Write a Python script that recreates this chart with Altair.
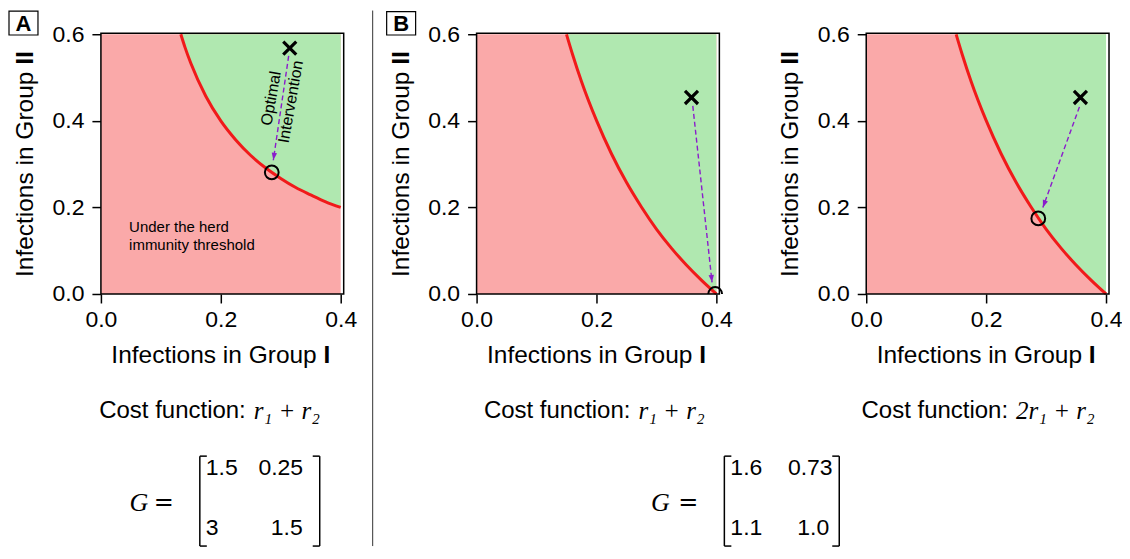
import math
import altair as alt
import pandas as pd

# ------------------------------------------------------------------ data
X_DOMAIN = [0.0, 0.405]
Y_DOMAIN = [0.0, 0.6025]
X_TICKS = [0.0, 0.2, 0.4]
Y_TICKS = [0.0, 0.2, 0.4, 0.6]
X_FILL = [0.0, 0.4]
Y_FILL = [0.0, 0.6]

# herd-immunity threshold curves
CURVE_A_X = [0.1333, 0.14, 0.15, 0.175, 0.2, 0.225, 0.25, 0.275, 0.3, 0.325, 0.35, 0.375, 0.4]
CURVE_A_Y = [0.6, 0.571, 0.533, 0.457, 0.4, 0.356, 0.32, 0.291, 0.267, 0.246, 0.229, 0.213, 0.2]
CURVE_BC_X = [0.15, 0.16, 0.175, 0.2, 0.225, 0.25, 0.275, 0.3, 0.325, 0.35, 0.375, 0.4]
CURVE_BC_Y = [0.6, 0.554, 0.491, 0.401, 0.324, 0.258, 0.201, 0.150, 0.106, 0.067, 0.032, 0.0]

START_X = {"A": 0.315, "B": 0.3585, "C": 0.3573}
START_Y = {"A": 0.568, "B": 0.454, "C": 0.454}
OPT_X = {"A": 0.285, "B": 0.398, "C": 0.287}
OPT_Y = {"A": 0.281, "B": 0.0, "C": 0.1746}
ARROW_X1 = {"A": 0.3132, "B": 0.3607, "C": 0.3557}
ARROW_Y1 = {"A": 0.550, "B": 0.4346, "C": 0.4323}
ARROW_X2 = {"A": 0.2876, "B": 0.3928, "C": 0.2947}
ARROW_Y2 = {"A": 0.309, "B": 0.027, "C": 0.200}

COST = {"A": "r₁  +  r₂", "B": "r₁  +  r₂", "C": "2r₁  +  r₂"}
MATRIX_A = [["1.5", "0.25"], ["3", "1.5"]]
MATRIX_B = [["1.6", "0.73"], ["1.1", "1.0"]]

# in-plot annotations (data coordinates of the first line)
NOTE_UNDER = "Under the herd\nimmunity threshold"
NOTE_UNDER_XY = (0.047, 0.155)
NOTE_OPT = "Optimal\nIntervention"
NOTE_OPT_XY = (0.284, 0.452)

# ------------------------------------------------------------------ style / layout
FONT = "Liberation Sans"
SERIF = "Liberation Serif"
RED_FILL = "#faa9a9"
GREEN_FILL = "#b0e8b0"
CURVE_COL = "#f01a1a"
PURPLE = "#8a1ccb"

PX_X = 600.0
PX_Y = 433.2
PLOT_W = round(X_DOMAIN[1] * PX_X)  # 243
PLOT_H = round(Y_DOMAIN[1] * PX_Y)  # 261
SPACING = 133
ORIGIN = {"A": (101.0, 31.7), "B": (477.0, 31.7), "C": (867.0, 31.7)}
WIDTH = {"A": PLOT_W, "B": PLOT_W + 14, "C": PLOT_W}

TITLE_FS = 24.5
TICK_FS = 23

XAXIS = alt.Axis(values=X_TICKS, format=".1f", title=None, domain=False, grid=False,
                 tickSize=9, tickWidth=1.5, tickColor="black", labelFont=FONT,
                 labelFontSize=TICK_FS, labelColor="black", labelPadding=6,
                 labelFlush=False, labelOverlap=False)
YAXIS = alt.Axis(values=Y_TICKS, format=".1f", title=None, domain=False, grid=False,
                 tickSize=9, tickWidth=1.5, tickColor="black", labelFont=FONT,
                 labelFontSize=TICK_FS, labelColor="black", labelPadding=8,
                 labelFlush=False, labelOverlap=False)
XSCALE = alt.Scale(domain=X_DOMAIN, range=[0, PLOT_W], nice=False, zero=False)
YSCALE = alt.Scale(domain=Y_DOMAIN, nice=False, zero=False)

DUMMY = pd.DataFrame({"k": [0]})


def xe(f="x"):
    return alt.X(f"{f}:Q", scale=XSCALE, axis=XAXIS)


def ye(f="y"):
    return alt.Y(f"{f}:Q", scale=YSCALE, axis=YAXIS)


def txt(key, text, page_x, page_y, size, font=FONT, **kw):
    ox, oy = ORIGIN[key]
    props = dict(font=font, fontSize=size, color="black")
    props.update(kw)
    return alt.Chart(pd.DataFrame({"t": [text]})).mark_text(**props).encode(
        x=alt.value(page_x - ox), y=alt.value(page_y - oy), text="t:N")


def seg(key, x1, y1, x2, y2, width=1.5, color="black"):
    ox, oy = ORIGIN[key]
    return alt.Chart(DUMMY).mark_rule(color=color, strokeWidth=width).encode(
        x=alt.value(x1 - ox), y=alt.value(y1 - oy), x2=alt.value(x2 - ox), y2=alt.value(y2 - oy))


def box(key, x1, y1, x2, y2):
    ox, oy = ORIGIN[key]
    return alt.Chart(DUMMY).mark_rect(fillOpacity=0, stroke="black", strokeWidth=1.2).encode(
        x=alt.value(x1 - ox), y=alt.value(y1 - oy), x2=alt.value(x2 - ox), y2=alt.value(y2 - oy))


W1 = 8.393   # "Infections in Group" width in em
WSP = 0.278  # space
WI = 0.278   # bold "I"


def titles(key):
    ox, oy = ORIGIN[key]
    cx = ox + 0.2 * PX_X
    cy = oy + (Y_DOMAIN[1] - 0.3) * PX_Y
    fs = TITLE_FS
    # x title
    tot = fs * (W1 + WSP + WI)
    e1 = cx - tot / 2 + fs * W1
    out = [
        txt(key, "Infections in Group", e1, 355, fs, align="right", baseline="middle"),
        txt(key, "I", e1 + fs * WSP, 355, fs, align="left", baseline="middle", fontWeight="bold"),
    ]
    # y title (rotated)
    tx = ox - 75
    tot = fs * (W1 + WSP + 2 * WI)
    e1y = cy + tot / 2 - fs * W1
    out += [
        txt(key, "Infections in Group", tx, e1y, fs, align="right", baseline="middle", angle=270),
        txt(key, "II", tx, e1y - fs * WSP, fs, align="left", baseline="middle", angle=270,
            fontWeight="bold"),
    ]
    return out


def cost(key, right_x):
    return [
        txt(key, "Cost function:", right_x, 410, 24, align="right", baseline="middle"),
        txt(key, COST[key], right_x + 8, 410, 25, font=SERIF, fontStyle="italic",
            align="left", baseline="middle"),
    ]


def matrix(key, m, g_x, eq_x, bl, br, c1_left, c2_centers):
    top, bot = 455, 545
    r1, r2 = 467, 527
    fs = 23
    out = [
        txt(key, "G", g_x, 502, 26, font=SERIF, fontStyle="italic", align="center", baseline="middle"),
        txt(key, "=", eq_x, 502, 24, font="DejaVu Serif", align="center", baseline="middle"),
        seg(key, bl, top, bl, bot), seg(key, bl, top, bl + 7, top), seg(key, bl, bot, bl + 7, bot),
        seg(key, br, top, br, bot), seg(key, br - 7, top, br, top), seg(key, br - 7, bot, br, bot),
        txt(key, m[0][0], c1_left, r1, fs, align="left", baseline="middle"),
        txt(key, m[1][0], c1_left, r2, fs, align="left", baseline="middle"),
        txt(key, m[0][1], c2_centers[0], r1, fs, align="center", baseline="middle"),
        txt(key, m[1][1], c2_centers[1], r2, fs, align="center", baseline="middle"),
    ]
    return out


HEAD = "M0,0L0.8,2.2L-0.8,2.2Z"


def panel(key, cx, cy, extras):
    curve = pd.DataFrame({"x": cx, "y": cy, "top": [Y_FILL[1]] * len(cx)})
    fill = pd.DataFrame({"x": [X_FILL[0]], "x2": [X_FILL[1]], "y": [Y_FILL[0]], "y2": [Y_FILL[1]]})
    frame = pd.DataFrame({"x": [X_DOMAIN[0]], "x2": [X_DOMAIN[1]], "y": [Y_DOMAIN[0]], "y2": [Y_DOMAIN[1]]})
    arrow = pd.DataFrame({"x": [ARROW_X1[key]], "y": [ARROW_Y1[key]],
                          "x2": [ARROW_X2[key]], "y2": [ARROW_Y2[key]]})
    head = pd.DataFrame({"x": [ARROW_X2[key]], "y": [ARROW_Y2[key]]})
    start = pd.DataFrame({"x": [START_X[key]], "y": [START_Y[key]]})
    opt = pd.DataFrame({"x": [OPT_X[key]], "y": [OPT_Y[key]]})

    dxp = (ARROW_X2[key] - ARROW_X1[key]) * PX_X
    dyp = -(ARROW_Y2[key] - ARROW_Y1[key]) * PX_Y
    ang = math.degrees(math.atan2(dxp, -dyp)) % 360

    layers = [
        alt.Chart(fill).mark_rect(color=RED_FILL, opacity=1).encode(
            x=xe("x"), x2="x2:Q", y=ye("y"), y2="y2:Q"),
        alt.Chart(curve).mark_area(color=GREEN_FILL, opacity=1, interpolate="monotone").encode(
            x=xe("x"), y=ye("y"), y2="top:Q"),
        alt.Chart(curve).mark_line(color=CURVE_COL, strokeWidth=3, interpolate="monotone").encode(
            x=xe("x"), y=ye("y")),
        alt.Chart(arrow).mark_rule(color=PURPLE, strokeWidth=1.4, strokeDash=[5, 3]).encode(
            x=xe("x"), y=ye("y"), x2="x2:Q", y2="y2:Q"),
        alt.Chart(head).mark_point(shape=HEAD, filled=True, color=PURPLE, opacity=1, size=45,
                                   angle=ang, strokeWidth=0).encode(x=xe("x"), y=ye("y")),
        alt.Chart(opt).mark_point(shape="circle", filled=False, color="black", opacity=1, size=190,
                                  strokeWidth=2, clip=True).encode(x=xe("x"), y=ye("y")),
        alt.Chart(start).mark_point(shape="M-1,-1L1,1M-1,1L1,-1", filled=False, color="black",
                                    opacity=1, size=170, strokeWidth=3.2).encode(x=xe("x"), y=ye("y")),
        alt.Chart(frame).mark_rect(fillOpacity=0, stroke="black", strokeWidth=1.5).encode(
            x=xe("x"), x2="x2:Q", y=ye("y"), y2="y2:Q"),
    ]
    layers += titles(key)
    layers += extras
    return alt.layer(*layers).properties(width=WIDTH[key], height=PLOT_H)


# panel A extras
extras_a = [
    box("A", 9, 9.5, 38, 33.5),
    txt("A", "A", 23.5, 22, 22, fontWeight="bold", align="center", baseline="middle"),
    alt.Chart(pd.DataFrame({"t": [NOTE_UNDER], "x": [NOTE_UNDER_XY[0]], "y": [NOTE_UNDER_XY[1]]}))
    .mark_text(font=FONT, fontSize=15, color="black", align="left", baseline="middle",
               lineBreak="\n", lineHeight=18.6)
    .encode(x=xe("x"), y=ye("y"), text="t:N"),
    alt.Chart(pd.DataFrame({"t": [NOTE_OPT], "x": [NOTE_OPT_XY[0]], "y": [NOTE_OPT_XY[1]]}))
    .mark_text(font=FONT, fontSize=16, color="black", align="center",
               baseline="middle", lineBreak="\n", lineHeight=20, angle=280)
    .encode(x=xe("x"), y=ye("y"), text="t:N"),
]
extras_a += cost("A", 246)
extras_a += matrix("A", MATRIX_A, 139, 164, 200, 320, 206, [281, 287])

extras_b = [
    seg("B", 373, 9, 373, 545, width=1, color="#333333"),
    box("B", 387, 10, 416, 33.5),
    txt("B", "B", 401.5, 22, 22, fontWeight="bold", align="center", baseline="middle"),
]
extras_b += cost("B", 631)
extras_b += matrix("B", MATRIX_B, 661, 689, 725, 840, 731, [811, 814])

extras_c = cost("C", 1009)

pa = panel("A", CURVE_A_X, CURVE_A_Y, extras_a)
pb = panel("B", CURVE_BC_X, CURVE_BC_Y, extras_b)
pc = panel("C", CURVE_BC_X, CURVE_BC_Y, extras_c)

chart = (
    alt.hconcat(pa, pb, pc, spacing=SPACING, bounds="flush")
    .properties(padding={"left": 0, "top": 1, "right": 0, "bottom": 0})
    .configure_view(stroke=None)
)

chart.save("out.html", embed_options={"renderer": "svg", "actions": False})
